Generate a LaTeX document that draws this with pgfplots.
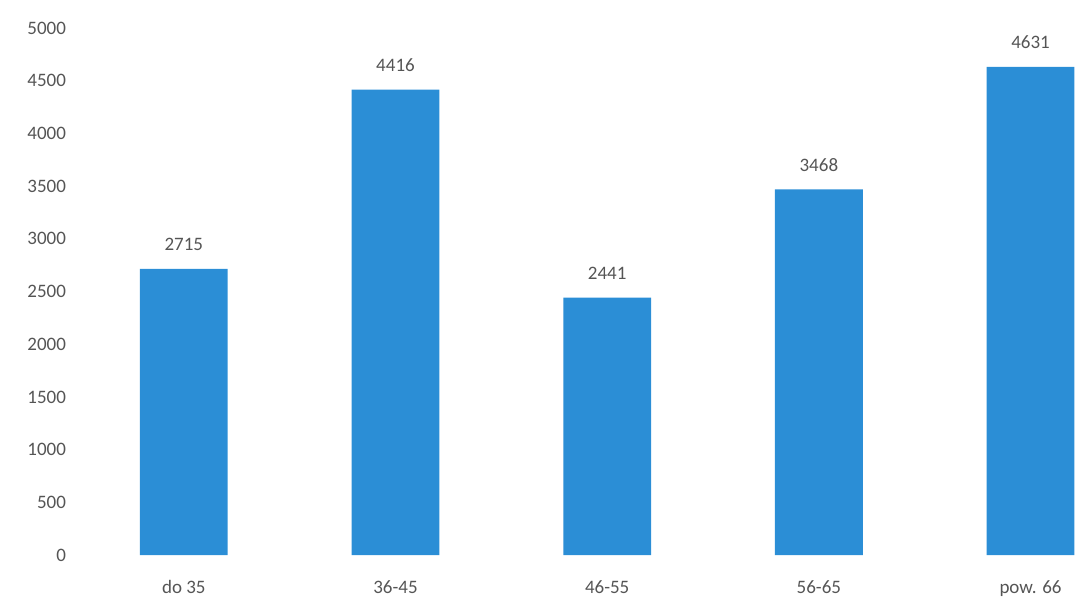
\documentclass[border=0pt]{standalone}
\usepackage{pgfplots}
\pgfplotsset{compat=1.18}
\usepackage{fontspec}
\setmainfont{Carlito}
\definecolor{barblue}{HTML}{2B8ED6}
\definecolor{txtgray}{HTML}{555555}
\begin{document}
\begin{tikzpicture}
\useasboundingbox (0,0) rectangle (537.5pt,302.5pt);
\begin{axis}[
    at={(37.5pt,25pt)}, anchor=south west,
    scale only axis,
    width=500pt, height=263.5pt,
    xmin=-0.514, xmax=4.21,
    ymin=0, ymax=5000,
    ytick={0,500,...,5000},
    xtick={0,1,2,3,4},
    xticklabels={do 35,36-45,46-55,56-65,pow. 66},
    axis line style={draw=none},
    major tick length=0pt,
    tick label style={font=\fontsize{9.5}{11}\selectfont, text=txtgray},
    /pgf/number format/assume math mode=true,
    /pgf/number format/1000 sep={},
    yticklabel style={xshift=-1pt, anchor=east},
    xticklabel style={anchor=base, yshift=-19pt},
    clip=false,
    ]
\addplot[ybar, bar width=0.415, fill=barblue, draw=none,
    nodes near coords,
    every node near coord/.append style={font=\fontsize{9.5}{11}\selectfont, text=txtgray, anchor=base, yshift=9pt},
    ] coordinates {(0,2715) (1,4416) (2,2441) (3,3468) (4,4631)};
\end{axis}
\end{tikzpicture}
\end{document}
